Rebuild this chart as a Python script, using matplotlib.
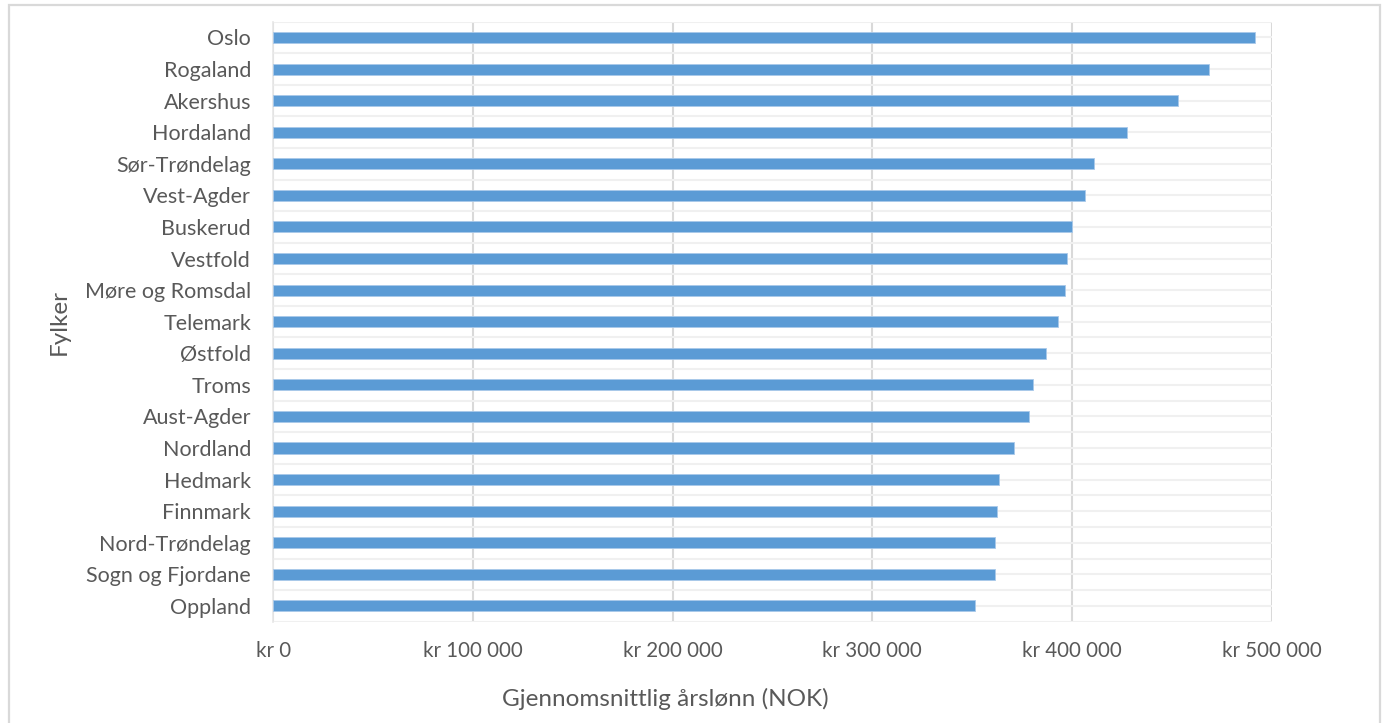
import matplotlib
matplotlib.use("Agg")
import matplotlib.pyplot as plt
from matplotlib.patches import Rectangle
from matplotlib.ticker import FuncFormatter, FixedLocator

counties = ["Oslo", "Rogaland", "Akershus", "Hordaland", "Sør-Trøndelag", "Vest-Agder",
            "Buskerud", "Vestfold", "Møre og Romsdal", "Telemark", "Østfold", "Troms",
            "Aust-Agder", "Nordland", "Hedmark", "Finnmark", "Nord-Trøndelag",
            "Sogn og Fjordane", "Oppland"]
salary = [491500, 468600, 453100, 427700, 411200, 406300,
          400200, 397300, 396300, 392800, 386800, 380600,
          378600, 370700, 363400, 362600, 361600,
          361600, 351400]
xticks = [0, 100000, 200000, 300000, 400000, 500000]

TEXT = "#595959"
plt.rcParams["font.family"] = ["Lato", "DejaVu Sans"]

fig = plt.figure(figsize=(13.85, 7.23), dpi=100)
ax = fig.add_axes([273.3 / 1385, 1 - 621.7 / 723, (1271.7 - 273.3) / 1385, 600 / 723])

n = len(counties)
ypos = list(range(n))
ax.barh(ypos, salary, height=0.35, color="#5b9bd5", edgecolor="#a9c9ea",
        linewidth=0.6, zorder=3)

ax.set_xlim(0, 500000)
ax.set_ylim(n - 0.5, -0.5)
ax.set_xticks(xticks)
ax.xaxis.set_major_formatter(FuncFormatter(lambda v, p: "kr " + f"{int(v):,}".replace(",", " ")))
ax.set_yticks(ypos)
ax.set_yticklabels(counties)
ax.yaxis.set_minor_locator(FixedLocator([i - 0.5 for i in range(n + 1)]))

ax.grid(axis="x", which="major", color="#d9d9d9", linewidth=1.5, zorder=1)
ax.grid(axis="y", which="major", color="#f0f0f0", linewidth=1.5, zorder=1)
ax.grid(axis="y", which="minor", color="#f0f0f0", linewidth=1.5, zorder=1)

for s in ax.spines.values():
    s.set_visible(False)
ax.spines["left"].set_visible(True)
ax.spines["left"].set_color("#e6e6e6")
ax.spines["left"].set_linewidth(1.2)

ax.tick_params(axis="both", which="both", length=0, colors=TEXT)
ax.tick_params(axis="y", pad=16, labelsize=15.5)
ax.tick_params(axis="x", pad=14, labelsize=14.8)

ax.set_xlabel("Gjennomsnittlig årslønn (NOK)", fontsize=17.5, color=TEXT)
ax.xaxis.set_label_coords(0.393, -0.110)
ax.set_ylabel("Fylker", fontsize=17.5, color=TEXT)
ax.yaxis.set_label_coords(-0.2036, 0.5)

# outer chart border
border = Rectangle((9 / 1385, -0.05), (1380 - 9) / 1385, 1.05 - 5 / 723,
                   transform=fig.transFigure, fill=False, edgecolor="#d9d9d9",
                   linewidth=1.6, clip_on=False)
fig.add_artist(border)

fig.savefig("out.png", dpi=100, facecolor="white")
